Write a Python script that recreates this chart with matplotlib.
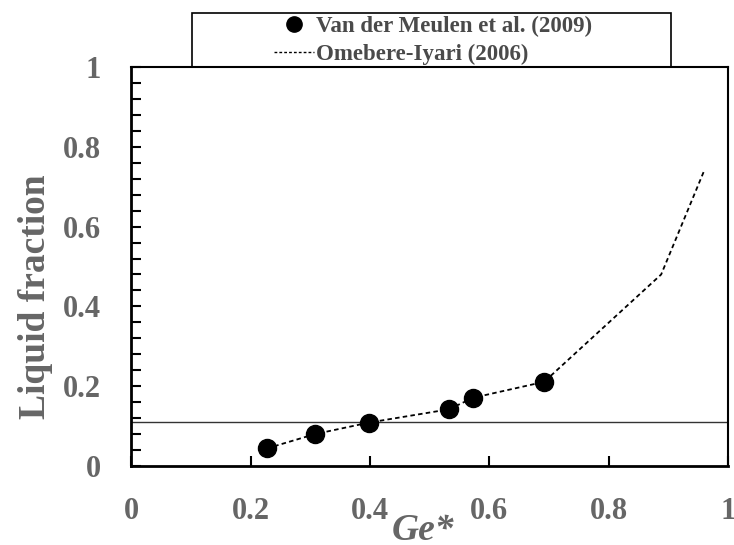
import matplotlib
matplotlib.use("Agg")
import matplotlib.pyplot as plt
from matplotlib.patches import Rectangle
from matplotlib.lines import Line2D
import numpy as np

# Data
meulen_x = [0.227, 0.308, 0.399, 0.532, 0.573, 0.692]
meulen_y = [0.044, 0.080, 0.109, 0.142, 0.171, 0.211]
omebere_x = [0.227, 0.308, 0.399, 0.532, 0.573, 0.692, 0.888, 0.960]
omebere_y = [0.044, 0.080, 0.109, 0.142, 0.171, 0.211, 0.480, 0.740]
hline_y = 0.11
x_ticks = [0, 0.2, 0.4, 0.6, 0.8, 1]
x_ticklabels = ["0", "0.2", "0.4", "0.6", "0.8", "1"]
y_ticks = [0, 0.2, 0.4, 0.6, 0.8, 1]
y_ticklabels = ["0", "0.2", "0.4", "0.6", "0.8", "1"]
legend_labels = ["Van der Meulen et al. (2009)", "Omebere-Iyari (2006)"]

plt.rcParams['font.family'] = ['Liberation Serif', 'DejaVu Serif']
gray = "#666666"

fig = plt.figure(figsize=(7.34, 5.45), dpi=100)
W, H = 734, 545
ax = fig.add_axes([131.3 / W, (H - 466) / H, (728 - 131.3) / W, (466 - 67) / H])

ax.axhline(hline_y, color="#333333", lw=1.0, zorder=1)
ax.plot(omebere_x, omebere_y, color="black", lw=1.3, ls=(0, (2.5, 1.8)), zorder=2)
ax.plot(meulen_x, meulen_y, ls="none", marker="o", ms=13, color="black", zorder=3)

ax.set_xlim(0, 1)
ax.set_ylim(0, 1)
ax.set_xticks(x_ticks)
ax.set_xticklabels(x_ticklabels)
ax.set_yticks(y_ticks)
ax.set_yticklabels(y_ticklabels)
ax.set_yticks(np.arange(0, 1.0001, 0.04), minor=True)
ax.tick_params(axis="both", which="both", direction="in", length=7, width=1.5,
               labelsize=22, labelcolor=gray)
ax.tick_params(axis="x", pad=22)
ax.tick_params(axis="y", pad=22)
ax.tick_params(axis="y", which="minor", length=7)
for lab in ax.get_xticklabels() + ax.get_yticklabels():
    lab.set_fontweight("bold")

for s in ["left", "bottom"]:
    ax.spines[s].set_linewidth(2.0)
for s in ["top", "right"]:
    ax.spines[s].set_linewidth(1.5)

ax.set_ylabel("Liquid fraction", fontsize=27, fontweight="bold", color=gray)
ax.yaxis.set_label_coords(-0.131, 0.424)
ax.set_xlabel("Ge*", fontsize=27, fontweight="bold", style="italic", color=gray)
ax.xaxis.set_label_coords(0.489, -0.118)

# Legend box above the plot
fig.patches.append(Rectangle((192 / W, (H - 67) / H), (671 - 192) / W, (67 - 13) / H,
                             transform=fig.transFigure, fill=False, edgecolor="black",
                             lw=1.2, zorder=5))
handles = [Line2D([], [], ls="none", marker="o", ms=11, color="black"),
           Line2D([], [], color="black", lw=1.0, ls=(0, (2, 1.5)))]
leg = fig.legend(handles, legend_labels, loc="center", bbox_to_anchor=(433 / W, (H - 40.5) / H),
                 frameon=False, fontsize=16.5, handlelength=1.75, handletextpad=0.1,
                 labelspacing=0.28, borderpad=0)
for t in leg.get_texts():
    t.set_fontweight("bold")
    t.set_color("#4a4a4a")

fig.savefig("out.png", dpi=100)
